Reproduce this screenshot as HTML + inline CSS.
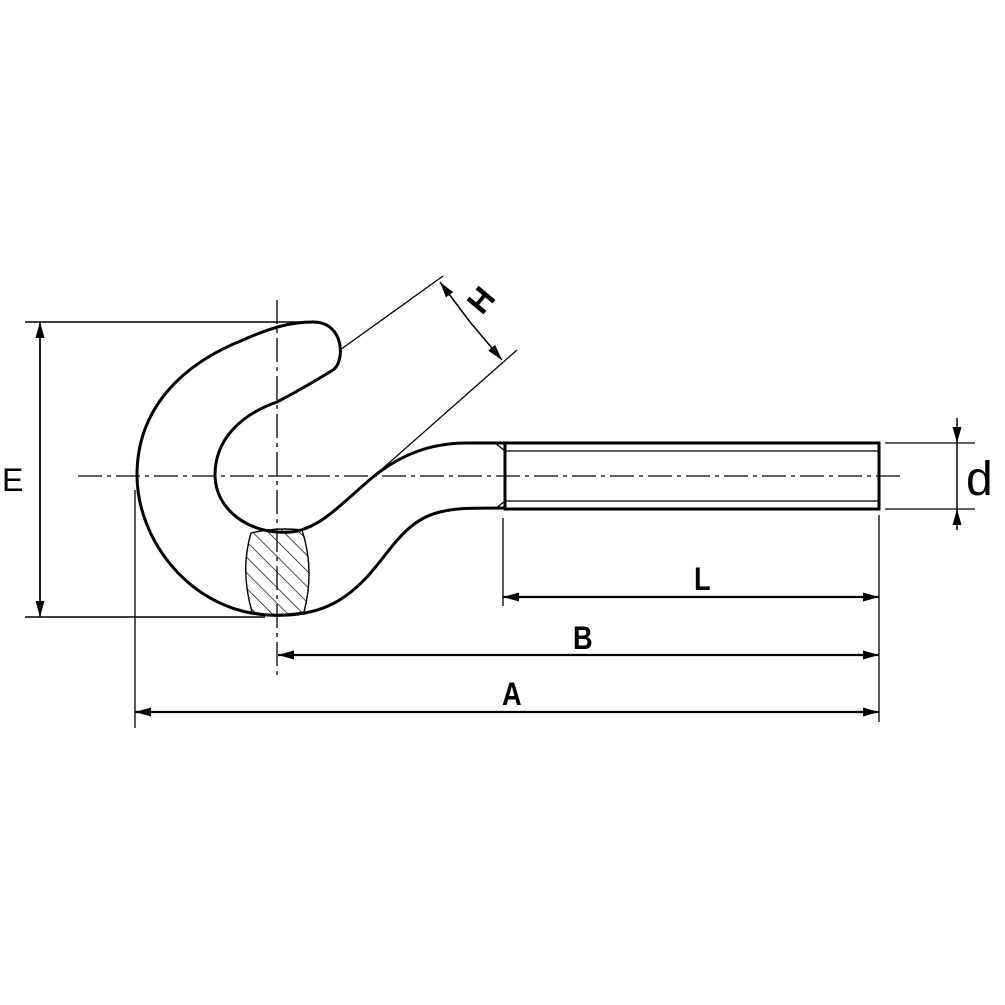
<!DOCTYPE html>
<html><head><style>html,body{margin:0;padding:0;background:#fff}svg{display:block}</style></head>
<body>
<svg width="1005" height="1005" viewBox="0 0 1005 1005" xmlns="http://www.w3.org/2000/svg" font-family="Liberation Sans, Arial, sans-serif">
<defs>
<pattern id="h" width="11" height="11" patternUnits="userSpaceOnUse" patternTransform="rotate(-45)">
<line x1="0" y1="0" x2="0" y2="11" stroke="#000" stroke-width="1.4"/>
</pattern>
<marker id="ar" markerWidth="16" markerHeight="9" refX="16" refY="4.5" orient="auto" markerUnits="userSpaceOnUse">
<path d="M0,0 L16,4.5 L0,9 Z" fill="#000"/>
</marker>
</defs>
<rect width="1005" height="1005" fill="#fff"/>
<g stroke="#000" fill="none">
<line x1="78" y1="476" x2="905" y2="476" stroke-width="1.3" stroke-dasharray="24,5,4,5"/>
<line x1="277" y1="300" x2="277" y2="680" stroke-width="1.3" stroke-dasharray="24,5,4,5"/>
<path d="M251,533 Q275,527 302,530 Q315,570 304,612 Q275,617 252,612 Q240,570 251,533 Z" fill="url(#h)" stroke-width="1.4"/>
<path d="M505,443 L467,443 C430,443 400,455 373,477 C345,500 320,530 290,532 C250,535 215,510 215,475 C215,440 240,415 277,402 C300,390 320,378 333,370 C345,362 345,322 313,322 C290,322 270,328 243,340 C180,365 137,410 137,475 C137,540 190,610 267,615 C320,618 345,600 367,577 C390,552 405,520 440,512 C455,508 470,508 505,508" stroke-width="3"/>
<rect x="505" y="443" width="374" height="66" stroke-width="3"/>
<line x1="505" y1="451" x2="879" y2="451" stroke-width="1.3"/>
<line x1="505" y1="501" x2="879" y2="501" stroke-width="1.3"/>
<path d="M495,443 L505,451 M495,509 L505,501" stroke-width="1.3"/>
<line x1="25" y1="322" x2="300" y2="322" stroke-width="1.5"/>
<line x1="25" y1="617" x2="265" y2="617" stroke-width="1.5"/>
<line x1="40" y1="335" x2="40" y2="617" stroke-width="1.5" marker-end="url(#ar)"/>
<line x1="40" y1="605" x2="40" y2="322" stroke-width="1.5" marker-end="url(#ar)"/>
<line x1="340" y1="350" x2="443" y2="276" stroke-width="1.3"/>
<line x1="373" y1="477" x2="517" y2="350" stroke-width="1.3"/>
<line x1="470" y1="322" x2="440" y2="282" stroke-width="1.5" marker-end="url(#ar)"/>
<line x1="470" y1="322" x2="502" y2="360" stroke-width="1.5" marker-end="url(#ar)"/>
<line x1="503" y1="518" x2="503" y2="606" stroke-width="1.3"/>
<line x1="879" y1="515" x2="879" y2="722" stroke-width="1.3"/>
<line x1="135" y1="490" x2="135" y2="728" stroke-width="1.3"/>
<line x1="600" y1="597" x2="503" y2="597" stroke-width="2.2" marker-end="url(#ar)"/>
<line x1="600" y1="597" x2="879" y2="597" stroke-width="2.2" marker-end="url(#ar)"/>
<line x1="580" y1="655" x2="278" y2="655" stroke-width="2.2" marker-end="url(#ar)"/>
<line x1="580" y1="655" x2="879" y2="655" stroke-width="2.2" marker-end="url(#ar)"/>
<line x1="500" y1="712" x2="135" y2="712" stroke-width="2.2" marker-end="url(#ar)"/>
<line x1="500" y1="712" x2="879" y2="712" stroke-width="2.2" marker-end="url(#ar)"/>
<line x1="885" y1="443" x2="975" y2="443" stroke-width="1.3"/>
<line x1="885" y1="509" x2="975" y2="509" stroke-width="1.3"/>
<line x1="957" y1="418" x2="957" y2="443" stroke-width="1.5" marker-end="url(#ar)"/>
<line x1="957" y1="530" x2="957" y2="509" stroke-width="1.5" marker-end="url(#ar)"/>
<line x1="957" y1="443" x2="957" y2="509" stroke-width="1.5"/>
</g>
<g fill="#000" font-size="32">
<text x="2" y="491">E</text>
<text x="694" y="590" font-weight="bold" transform="translate(694,0) scale(0.85,1) translate(-694,0)">L</text>
<text x="573" y="649" font-weight="bold" transform="translate(573,0) scale(0.85,1) translate(-573,0)">B</text>
<text x="502" y="705" font-weight="bold" transform="translate(502,0) scale(0.85,1) translate(-502,0)">A</text>
<text x="966" y="495" font-size="48">d</text>
<text x="0" y="0" font-weight="bold" transform="translate(482,316) rotate(-50)">H</text>
</g>
</svg>
</body></html>
